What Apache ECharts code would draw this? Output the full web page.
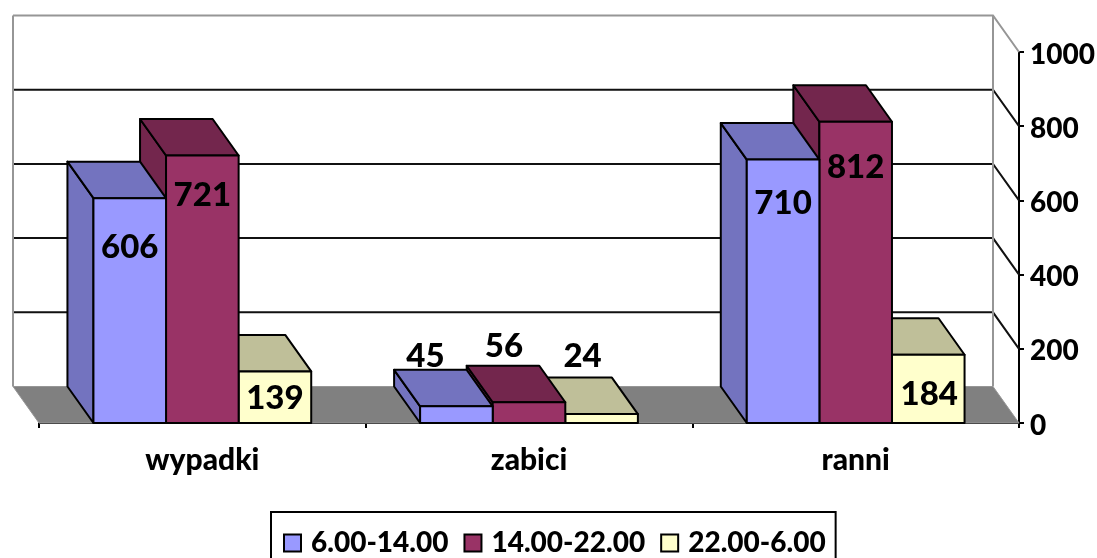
<!DOCTYPE html>
<html>
<head>
<meta charset="utf-8">
<style>
    html, body { margin: 0; background: #fff; }
    #chart { width: 1097px; height: 558px; }
</style>
<script src="https://cdn.jsdelivr.net/npm/echarts@6/dist/echarts.min.js"></script>
</head>
<body>
<div id="chart"></div>
<script>
const categories = ['wypadki', 'zabici', 'ranni'];
const yTicks = [0, 200, 400, 600, 800, 1000];
const morning = [606, 45, 710];
const afternoon = [721, 56, 812];
const night = [139, 24, 184];

const DEPTH_X = 26;
const DEPTH_Y = 36.5;
const FONT = 'Lato';

// where the value labels sit, relative to top middle of the front face
const labelShift = [
    [[0, 49], [-31, -50], [0, 44]],
    [[0, 40], [-25, -56], [0, 46]],
    [[0, 27], [-19, -58], [1, 40]]
];

const chart = echarts.init(document.getElementById('chart'));

function renderWall(params, api) {
    const sys = params.coordSys;
    const left = sys.x;
    const right = sys.x + sys.width;
    const value = api.value(1);
    const y = api.coord([0, value])[1];
    const children = [];
    if (value === 0) {
        children.push({
            type: 'polygon',
            shape: { points: [[left - DEPTH_X, y - DEPTH_Y], [right - DEPTH_X, y - DEPTH_Y], [right, y], [left, y]] },
            style: { fill: '#808080', stroke: '#969696', lineWidth: 1 }
        });
    } else {
        const top = value === yTicks[yTicks.length - 1];
        const stroke = top ? '#969696' : '#111';
        children.push({
            type: 'polyline',
            shape: { points: [[left - DEPTH_X, y - DEPTH_Y], [right - DEPTH_X, y - DEPTH_Y], [right, y]] },
            style: { fill: null, stroke: stroke, lineWidth: 2 }
        });
    }
    if (value === yTicks[yTicks.length - 1]) {
        const floorY = api.coord([0, 0])[1] - DEPTH_Y;
        [left - DEPTH_X, right - DEPTH_X].forEach(x => {
            children.push({
                type: 'line',
                shape: { x1: x, y1: y - DEPTH_Y, x2: x, y2: floorY },
                style: { stroke: '#969696', lineWidth: 2 }
            });
        });
    }
    return { type: 'group', children: children };
}

function renderBar(seriesIndex, front, shade) {
    return function (params, api) {
        const cat = api.value(0);
        const value = api.value(1);
        const band = api.size([1, 0])[0];
        const barW = band / 4.5;
        const cx = api.coord([cat, 0])[0];
        const base = api.coord([cat, 0])[1];
        const top = api.coord([cat, value])[1];
        const x0 = cx - 1.5 * barW + seriesIndex * barW;
        const x1 = x0 + barW;
        const line = { stroke: '#000', lineWidth: 2, lineJoin: 'round' };
        const shift = labelShift[seriesIndex][cat];
        return {
            type: 'group',
            children: [
                {
                    type: 'polygon',
                    shape: { points: [[x0, top], [x0 - DEPTH_X, top - DEPTH_Y], [x0 - DEPTH_X, base - DEPTH_Y], [x0, base]] },
                    style: Object.assign({ fill: shade }, line)
                },
                {
                    type: 'polygon',
                    shape: { points: [[x0, top], [x1, top], [x1 - DEPTH_X, top - DEPTH_Y], [x0 - DEPTH_X, top - DEPTH_Y]] },
                    style: Object.assign({ fill: shade }, line)
                },
                {
                    type: 'rect',
                    shape: { x: x0, y: top, width: barW, height: base - top },
                    style: Object.assign({ fill: front }, line)
                },
                {
                    type: 'text',
                    x: (x0 + x1) / 2 + shift[0],
                    y: top + shift[1],
                    style: {
                        text: String(value),
                        align: 'center',
                        verticalAlign: 'middle',
                        fill: '#000',
                        font: '900 33px ' + FONT
                    }
                }
            ]
        };
    };
}

function barSeries(name, values, index, front, shade) {
    return {
        name: name,
        type: 'custom',
        z: 5 - index,
        clip: false,
        silent: true,
        itemStyle: { color: front, borderColor: '#000', borderWidth: 2 },
        renderItem: renderBar(index, front, shade),
        encode: { x: 0, y: 1 },
        data: values.map((v, i) => [i, v])
    };
}

const option = {
    animation: false,
    grid: { left: 39, right: 78, top: 52, bottom: 135, outerBoundsMode: 'none' },
    legend: {
        data: ['6.00-14.00', '14.00-22.00', '22.00-6.00'],
        left: 271,
        top: 512,
        icon: 'rect',
        itemWidth: 17,
        itemHeight: 17,
        itemGap: 15,
        padding: [17, 10, 20, 12],
        borderColor: '#000',
        borderWidth: 2,
        textStyle: { fontFamily: FONT, fontWeight: 900, fontSize: 28, color: '#000', padding: [0, 0, 0, 5] }
    },
    xAxis: {
        type: 'category',
        data: categories,
        axisLine: { show: true, lineStyle: { color: '#000', width: 2 } },
        axisTick: { show: true, alignWithLabel: false, length: 5, lineStyle: { color: '#000', width: 2 } },
        axisLabel: { margin: 22, fontFamily: FONT, fontWeight: 900, fontSize: 30, color: '#000' }
    },
    yAxis: {
        type: 'value',
        position: 'right',
        min: 0,
        max: 1000,
        interval: 200,
        splitLine: { show: false },
        axisLine: { show: true, lineStyle: { color: '#000', width: 2 } },
        axisTick: { show: true, length: 5, lineStyle: { color: '#000', width: 2 } },
        axisLabel: {
            margin: 11,
            formatter: v => '{tick|' + v + '}',
            rich: { tick: { padding: [5, 0, 0, 0], fontFamily: FONT, fontWeight: 900, fontSize: 28, color: '#000' } }
        }
    },
    series: [
        {
            type: 'custom',
            z: 1,
            clip: false,
            silent: true,
            renderItem: renderWall,
            encode: { x: 0, y: 1 },
            data: yTicks.map(v => [0, v])
        },
        barSeries('6.00-14.00', morning, 0, '#9999FF', '#7373BF'),
        barSeries('14.00-22.00', afternoon, 1, '#993366', '#73264D'),
        barSeries('22.00-6.00', night, 2, '#FFFFCC', '#BFBF99')
    ]
};

chart.setOption(option);
</script>
</body>
</html>
